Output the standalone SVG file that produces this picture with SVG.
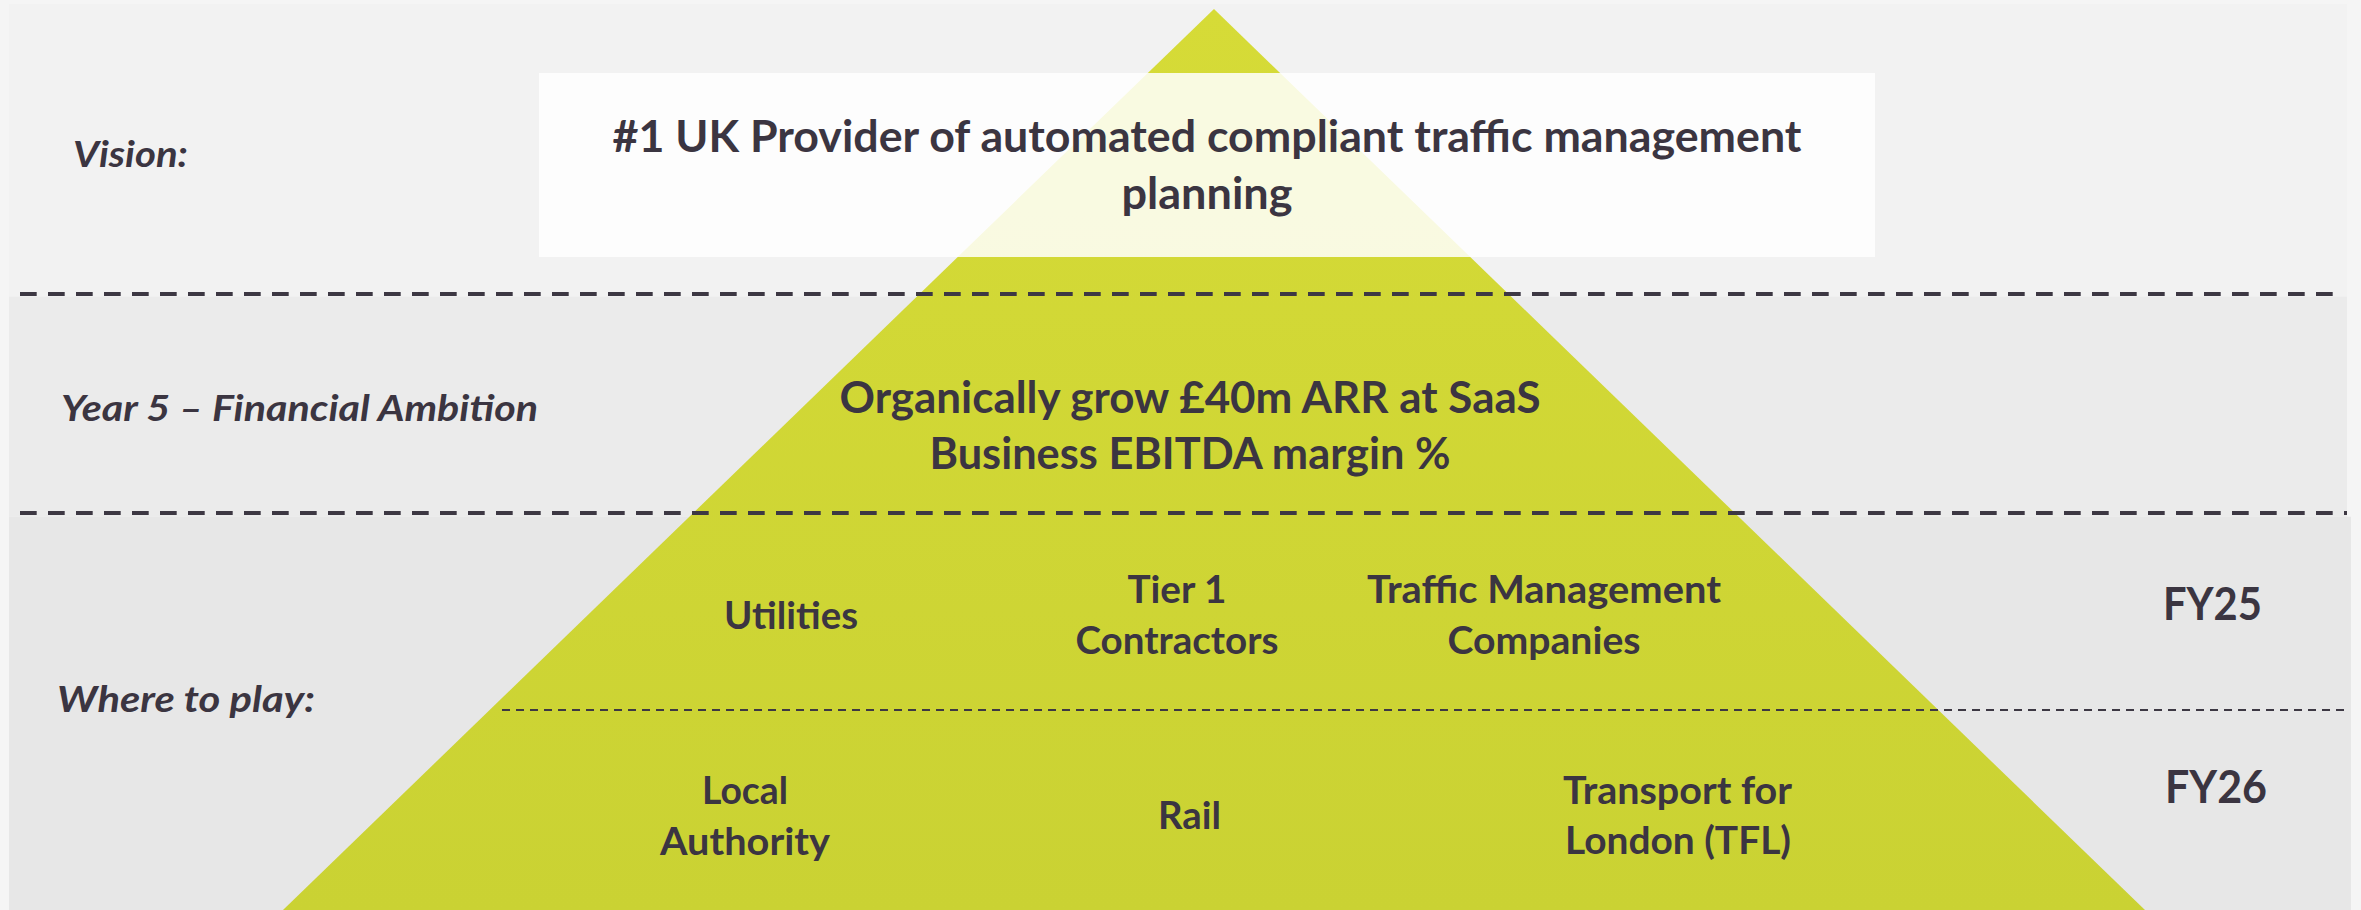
<svg xmlns="http://www.w3.org/2000/svg" width="2361" height="910" viewBox="0 0 2361 910">
<style>
  .t { font-family: Lato, "Open Sans", "Liberation Sans", sans-serif; font-weight: bold; fill: #3b3541; }
  .lbl { font-size: 36px; font-style: italic; }
  .big { font-size: 43px; text-anchor: middle; }
  .seg { font-size: 38px; text-anchor: middle; }
  .fy { font-size: 45px; text-anchor: middle; }
  .sep { stroke: #3d3843; stroke-width: 4; stroke-dasharray: 16.7 11.3; fill: none; }
  .sep-thin { stroke: #3d3843; stroke-width: 2; stroke-dasharray: 8 6; fill: none; }
</style>
<defs>
  <linearGradient id="pyr" x1="0" y1="9" x2="0" y2="910" gradientUnits="userSpaceOnUse">
    <stop offset="0" stop-color="#d6db37"/>
    <stop offset="1" stop-color="#cad233"/>
  </linearGradient>
</defs>
<rect x="0" y="0" width="2361" height="910" fill="#f5f5f5"/>
<g id="bands">
  <rect x="9" y="4" width="2338" height="292.7" fill="#f2f2f2"/>
  <rect x="9" y="296.7" width="2338" height="220" fill="#ebebeb"/>
  <rect x="9" y="516.7" width="2342" height="393.3" fill="#e7e7e7"/>
</g>
<g id="pyramid">
  <polygon points="1214,9 283,910 2145,910" fill="url(#pyr)"/>
</g>
<g id="vision-box">
  <rect x="539" y="73" width="1336" height="184" fill="#ffffff" fill-opacity="0.85"/>
  <text class="t big" x="1207" y="152" textLength="1189" lengthAdjust="spacingAndGlyphs">#1 UK Provider of automated compliant traffic management</text>
  <text class="t big" x="1207" y="209" textLength="171" lengthAdjust="spacingAndGlyphs">planning</text>
</g>
<g id="connectors">
  <line class="sep" x1="20" y1="294" x2="2334" y2="294"/>
  <line class="sep" x1="20" y1="513" x2="2347" y2="513"/>
  <line class="sep-thin" x1="502" y1="710" x2="2344" y2="710"/>
</g>
<g id="label-vision"><text class="t lbl" x="73" y="167" textLength="115" lengthAdjust="spacingAndGlyphs">Vision:</text></g>
<g id="label-year5"><text class="t lbl" x="61" y="421" textLength="477" lengthAdjust="spacingAndGlyphs">Year 5 – Financial Ambition</text></g>
<g id="label-where"><text class="t lbl" x="57" y="712" textLength="258" lengthAdjust="spacingAndGlyphs">Where to play:</text></g>
<g id="ambition">
  <text class="t big" x="1190" y="413" textLength="701" lengthAdjust="spacingAndGlyphs">Organically grow £40m ARR at SaaS</text>
  <text class="t big" x="1190" y="469" textLength="521" lengthAdjust="spacingAndGlyphs">Business EBITDA margin %</text>
</g>
<g id="seg-utilities"><text class="t seg" x="791" y="629" textLength="134" lengthAdjust="spacingAndGlyphs">Utilities</text></g>
<g id="seg-tier1">
  <text class="t seg" x="1177" y="603" textLength="99" lengthAdjust="spacingAndGlyphs">Tier 1</text>
  <text class="t seg" x="1177" y="654" textLength="203" lengthAdjust="spacingAndGlyphs">Contractors</text>
</g>
<g id="seg-tm">
  <text class="t seg" x="1544" y="603" textLength="354" lengthAdjust="spacingAndGlyphs">Traffic Management</text>
  <text class="t seg" x="1544" y="654" textLength="193" lengthAdjust="spacingAndGlyphs">Companies</text>
</g>
<g id="seg-local">
  <text class="t seg" x="745" y="804" textLength="86" lengthAdjust="spacingAndGlyphs">Local</text>
  <text class="t seg" x="745" y="855" textLength="170" lengthAdjust="spacingAndGlyphs">Authority</text>
</g>
<g id="seg-rail"><text class="t seg" x="1189.5" y="829" textLength="63" lengthAdjust="spacingAndGlyphs">Rail</text></g>
<g id="seg-tfl">
  <text class="t seg" x="1677.5" y="804" textLength="229" lengthAdjust="spacingAndGlyphs">Transport for</text>
  <text class="t seg" x="1678" y="854" textLength="226" lengthAdjust="spacingAndGlyphs">London (TFL)</text>
</g>
<g id="fy25"><text class="t fy" x="2212.5" y="620" textLength="99" lengthAdjust="spacingAndGlyphs">FY25</text></g>
<g id="fy26"><text class="t fy" x="2216" y="803" textLength="102" lengthAdjust="spacingAndGlyphs">FY26</text></g>
</svg>
